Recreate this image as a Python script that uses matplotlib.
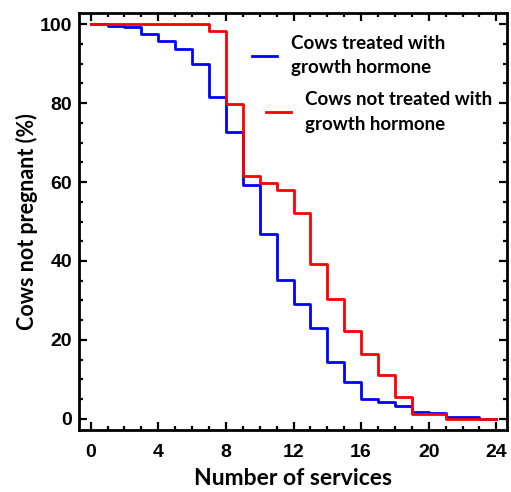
import numpy as np
import matplotlib
matplotlib.use("Agg")
from matplotlib import pyplot as plt
from matplotlib.ticker import MultipleLocator

# fraction of cows not yet pregnant after each service (step values, one per interval)
services = np.arange(0, 25)
treated = [100, 99.6, 99.3, 97.6, 95.8, 93.7, 89.9, 81.6, 72.6, 59.2, 46.8, 35.1,
           29.0, 23.0, 14.4, 9.3, 5.0, 4.2, 3.4, 1.8, 1.4, 0.5, 0.5, 0]
untreated = [100, 100, 100, 100, 100, 100, 100, 98.3, 79.7, 61.4, 59.7, 58.1,
             52.2, 39.2, 30.5, 22.3, 16.5, 11.1, 5.5, 1.2, 1.2, 0, 0, 0]
labels = ["Cows treated with\ngrowth hormone", "Cows not treated with\ngrowth hormone"]
x_ticks = [0, 4, 8, 12, 16, 20, 24]
y_ticks = [0, 20, 40, 60, 80, 100]

LABEL_FONT = "Lato"
TICK_FONT = "Liberation Sans"

fig = plt.figure(figsize=(5.11, 4.92), dpi=100)
ax = fig.add_axes([79 / 511, 1 - 430 / 492, 428 / 511, 417 / 492])

blue_line, = ax.step(services, treated + [treated[-1]], where="post", color="#0000ff", lw=2.0)
red_line, = ax.step(services, untreated + [untreated[-1]], where="post", color="#ff0000", lw=2.0)

ax.set_xlim(-0.69, 24.63)
ax.set_ylim(-2.8, 102.8)
ax.set_xticks(x_ticks)
ax.set_yticks(y_ticks)
ax.xaxis.set_minor_locator(MultipleLocator(1))
ax.yaxis.set_minor_locator(MultipleLocator(5))
ax.tick_params(which="both", direction="in", top=True, right=True, width=1.6)
ax.tick_params(which="major", length=5.5)
ax.tick_params(which="minor", length=3)
ax.tick_params(axis="x", which="major", pad=10)
ax.tick_params(axis="y", which="major", pad=5)
for lab in ax.get_xticklabels() + ax.get_yticklabels():
    lab.set_fontfamily(TICK_FONT)
    lab.set_fontweight("bold")
    lab.set_fontsize(14)
for sp in ax.spines.values():
    sp.set_linewidth(2.0)

ax.set_xlabel("Number of services", fontfamily=LABEL_FONT, fontweight="bold", fontsize=16.5, labelpad=5)
ax.set_ylabel("Cows not pregnant (%)", fontfamily=LABEL_FONT, fontweight="bold", fontsize=15.5, labelpad=1)

leg_kw = dict(frameon=False, loc="upper left", borderpad=0, borderaxespad=0,
              handlelength=1.35, handletextpad=0.75,
              prop={"family": LABEL_FONT, "weight": "bold", "size": 13.5})
leg1 = ax.legend([blue_line], [labels[0]], bbox_to_anchor=(0.404, 0.948), **leg_kw)
for t in leg1.get_texts():
    t.set_linespacing(1.55)
ax.add_artist(leg1)
leg2 = ax.legend([red_line], [labels[1]], bbox_to_anchor=(0.437, 0.813), **leg_kw)
for t in leg2.get_texts():
    t.set_linespacing(1.55)

fig.savefig("out.png", dpi=100)
